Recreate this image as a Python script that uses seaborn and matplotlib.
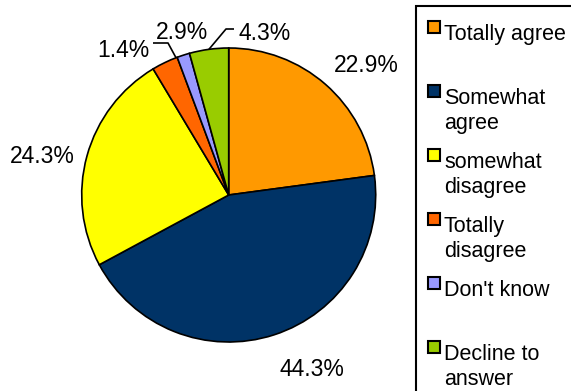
import numpy as np
import matplotlib
matplotlib.use("Agg")
import matplotlib.pyplot as plt
from matplotlib.patches import Rectangle
import seaborn as sns

# Survey responses (percent of respondents)
categories = ["Totally agree", "Somewhat agree", "somewhat disagree",
              "Totally disagree", "Don't know", "Decline to answer"]
legend_labels = ["Totally agree", "Somewhat\nagree", "somewhat\ndisagree",
                 "Totally\ndisagree", "Don't know", "Decline to\nanswer"]
shares = [22.9, 44.3, 24.3, 2.9, 1.4, 4.3]
colors = ["#FF9900", "#003366", "#FFFF00", "#FF6600", "#9999FF", "#99CC00"]

sns.set_theme(style="white")
plt.rcParams["font.family"] = ["Liberation Sans", "DejaVu Sans"]

W, H = 571, 391
fig = plt.figure(figsize=(W / 100, H / 100), dpi=100)

# pie geometry in pixels
cx, cy, r = 228.7, 195.0, 147.0
ax = fig.add_axes([(cx - r) / W, (H - cy - r) / H, 2 * r / W, 2 * r / H])

wedges, _ = ax.pie(shares, colors=colors, startangle=90, counterclock=False,
                   radius=1.0, wedgeprops=dict(edgecolor="black", linewidth=1.2))
ax.set_xlim(-1, 1)
ax.set_ylim(-1, 1)
ax.set_aspect("equal")
ax.axis("off")


def px(x, y):
    """pixel position -> pie data coordinates"""
    return (x - cx) / r, (cy - y) / r


# label centres in pixels, per slice
label_px = [(366, 65), (312, 369), (42, 156), (182, 32), (123, 50), (265, 33)]
for val, (lx, ly) in zip(shares, label_px):
    x, y = px(lx, ly)
    ax.text(x, y, f"{val}%", ha="center", va="center", fontsize=16.5,
            color="black", clip_on=False)

# leader lines for the crowded small slices
def edge_point(wedge, angle_offset):
    a = np.deg2rad(wedge.theta1 + angle_offset)
    return np.cos(a), np.sin(a)

# Totally disagree
ex, ey = edge_point(wedges[3], 0.5)
p0 = px(153, 43)
p1 = px(168, 43)
ax.plot([p0[0], p1[0], ex], [p0[1], p1[1], ey], color="black", lw=1.2,
        clip_on=False, solid_capstyle="butt")
# Decline to answer
mid = (wedges[5].theta1 + wedges[5].theta2) / 2
ex, ey = np.cos(np.deg2rad(mid)), np.sin(np.deg2rad(mid))
p0 = px(234, 29)
p1 = px(226, 29)
ax.plot([p0[0], p1[0], ex], [p0[1], p1[1], ey], color="black", lw=1.2,
        clip_on=False, solid_capstyle="butt")

# legend frame and entries
def fx(x):
    return x / W


def fy(y):
    return 1 - y / H


fig.patches.append(Rectangle((fx(416), fy(396)), fx(580) - fx(416), fy(6) - fy(396),
                             transform=fig.transFigure, fill=False,
                             edgecolor="black", linewidth=1.5))
slot_top = 21
slot_step = 64
for i, (lab, col) in enumerate(zip(legend_labels, colors)):
    top = slot_top + i * slot_step
    fig.patches.append(Rectangle((fx(428), fy(top + 12)), fx(440) - fx(428),
                                 fy(top) - fy(top + 12),
                                 transform=fig.transFigure, facecolor=col,
                                 edgecolor="black", linewidth=1.5))
    for j, line in enumerate(lab.split("\n")):
        fig.text(fx(444), fy(top + 19 + 25 * j), line, ha="left",
                 va="baseline", fontsize=15.5, color="black")

fig.savefig("out.png", dpi=100, facecolor="white")
